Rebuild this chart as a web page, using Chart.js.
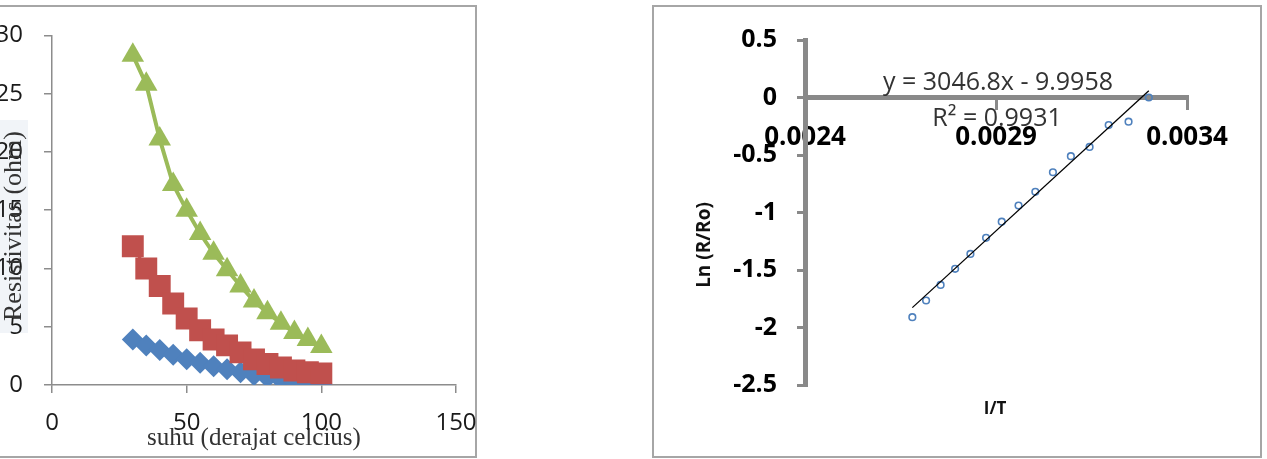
<!DOCTYPE html>
<html>
<head>
<meta charset="utf-8">
<script src="https://cdn.jsdelivr.net/npm/chart.js@4.4.0/dist/chart.umd.min.js"></script>
<style>
body { margin: 0; background: #fff; width: 1267px; height: 459px; overflow: hidden; position: relative; }
.panel { position: absolute; box-sizing: border-box; border: 2px solid #a6a6a6; pointer-events: none; }
canvas { position: absolute; top: 0; }
</style>
</head>
<body>
<div class="panel" style="left:-2px; top:5px; width:479px; height:453px;"></div>
<div class="panel" style="left:652px; top:5px; width:610px; height:453px;"></div>
<canvas id="kiri" width="500" height="459" style="left:0"></canvas>
<canvas id="kanan" width="615" height="459" style="left:652px"></canvas>
<script>
// data grafik kiri: resistivitas terhadap suhu
var suhu = [30, 35, 40, 45, 50, 55, 60, 65, 70, 75, 80, 85, 90, 95, 100];
var seriBiru = [3.9, 3.4, 3.0, 2.6, 2.2, 1.9, 1.6, 1.35, 1.1, 0.85, 0.65, 0.45, 0.3, 0.2, 0.1];
var seriMerah = [11.9, 10.0, 8.5, 7.0, 5.7, 4.7, 3.9, 3.4, 2.8, 2.2, 1.8, 1.5, 1.25, 1.1, 1.0];
var seriHijau = [28.3, 25.8, 21.1, 17.2, 15.0, 13.0, 11.3, 9.9, 8.5, 7.2, 6.2, 5.3, 4.5, 3.9, 3.3];
var xTicksKiri = [0, 50, 100, 150];
var yTicksKiri = [0, 5, 10, 15, 20, 25, 30];

// data grafik kanan: ln(R/Ro) terhadap 1/T
var invT = [0.002681, 0.002717, 0.002755, 0.002793, 0.002833, 0.002874, 0.002915, 0.002959,
            0.003003, 0.003049, 0.003096, 0.003145, 0.003195, 0.003247, 0.003300];
var lnR = [-1.91, -1.765, -1.63, -1.49, -1.36, -1.22, -1.08, -0.94, -0.82, -0.65, -0.51, -0.43, -0.24, -0.21, 0.0];
var xTicksKanan = [0.0024, 0.0029, 0.0034];
var yTicksKanan = [0.5, 0, -0.5, -1, -1.5, -2, -2.5];
var slope = 3046.8;
var intercept = -9.9958;
var r2 = 0.9931;

Chart.defaults.font.family = "'Open Sans', sans-serif";

function pasang(xs, ys) {
  var out = [];
  for (var i = 0; i < xs.length; i++) out.push({x: xs[i], y: ys[i]});
  return out;
}

function setTicks(arr) {
  return function (scale) { scale.ticks = arr.map(function (v) { return {value: v}; }); };
}

var abuSumbu = '#8c8c8c';
var biru = '#4F81BD', merah = '#C0504D', hijau = '#9BBB59';

var judulKiri = {
  id: 'judulKiri',
  beforeDraw: function (chart) {
    var c = chart.ctx;
    c.save();
    c.fillStyle = '#f1f4f8';
    c.fillRect(0, 120, 28, 213);
    c.restore();
  },
  afterDraw: function (chart) {
    var c = chart.ctx;
    c.save();
    c.translate(14, 226);
    c.rotate(-Math.PI / 2);
    c.font = "26px 'Liberation Serif', serif";
    c.fillStyle = '#333';
    c.textAlign = 'center';
    c.textBaseline = 'middle';
    c.fillText('Resistivitas (ohm)', 0, 0);
    c.restore();
  }
};

var ctx = document.getElementById('kiri').getContext('2d');
var grafikKiri = new Chart(ctx, {
  type: 'scatter',
  data: {
    datasets: [{
      data: pasang(suhu, seriBiru),
      showLine: true,
      borderColor: biru,
      backgroundColor: biru,
      borderWidth: 3,
      pointStyle: 'rectRot',
      pointRadius: 11,
      pointBorderWidth: 0,
      order: 2
    }, {
      data: pasang(suhu, seriMerah),
      showLine: true,
      borderColor: merah,
      backgroundColor: merah,
      borderWidth: 3,
      pointStyle: 'rect',
      pointRadius: 15.5,
      pointBorderWidth: 0,
      order: 1
    }, {
      data: pasang(suhu, seriHijau),
      showLine: true,
      borderColor: hijau,
      backgroundColor: hijau,
      borderWidth: 4,
      pointStyle: 'triangle',
      pointRadius: 13,
      pointBorderWidth: 0,
      order: 0
    }]
  },
  options: {
    responsive: false,
    animation: false,
    devicePixelRatio: 1,
    layout: { padding: { top: 25, right: 44, bottom: 0, left: 0 } },
    scales: {
      x: {
        type: 'linear',
        min: 0,
        max: 150,
        afterBuildTicks: setTicks(xTicksKiri),
        afterFit: function (s) { s.height = 74; },
        grid: { drawOnChartArea: false, tickLength: 8, color: abuSumbu, lineWidth: 1.5 },
        border: { color: abuSumbu, width: 1.5 },
        ticks: { padding: 16, maxRotation: 0, color: '#1a1a1a', font: { size: 24 } },
        title: {
          display: true,
          text: 'suhu (derajat celcius)',
          color: '#333',
          padding: { top: 0, bottom: 6 },
          font: { family: "'Liberation Serif', serif", size: 25 }
        }
      },
      y: {
        min: 0,
        max: 30,
        afterBuildTicks: setTicks(yTicksKiri),
        afterFit: function (s) { s.width = 52; },
        grid: { drawOnChartArea: false, tickLength: 8, color: abuSumbu, lineWidth: 1.5 },
        border: { color: abuSumbu, width: 1.5 },
        ticks: { padding: 21, color: '#1a1a1a', font: { size: 24 } }
      }
    },
    plugins: {
      legend: { display: false },
      tooltip: { enabled: false }
    }
  },
  plugins: [judulKiri]
});

var teksKanan = {
  id: 'teksKanan',
  afterDraw: function (chart) {
    var c = chart.ctx;
    c.save();
    c.textAlign = 'center';
    c.textBaseline = 'middle';
    c.fillStyle = '#333';
    c.font = "25px 'Open Sans', sans-serif";
    c.fillText('y = ' + slope + 'x - ' + Math.abs(intercept), 346, 83);
    c.fillText('R\u00B2 = ' + r2, 345, 119);
    c.fillStyle = '#111';
    c.textBaseline = 'alphabetic';
    c.font = "bold 17px 'Open Sans', sans-serif";
    c.fillText('I/T', 343, 414);
    c.textBaseline = 'middle';
    c.font = "bold 19px 'Open Sans', sans-serif";
    c.translate(53, 245);
    c.rotate(-Math.PI / 2);
    c.fillText('Ln (R/Ro)', 0, 0);
    c.restore();
  }
};

var n = invT.length;
var ctx2 = document.getElementById('kanan').getContext('2d');
var grafikKanan = new Chart(ctx2, {
  type: 'scatter',
  data: {
    datasets: [{
      data: [
        {x: invT[0], y: slope * invT[0] + intercept},
        {x: invT[n - 1], y: slope * invT[n - 1] + intercept}
      ],
      showLine: true,
      borderColor: '#000',
      borderWidth: 1.3,
      pointRadius: 0,
      order: 0
    }, {
      data: pasang(invT, lnR),
      borderColor: biru,
      pointBackgroundColor: 'rgba(0,0,0,0)',
      pointBorderColor: biru,
      pointBorderWidth: 1.6,
      pointRadius: 3.3,
      order: 1
    }]
  },
  options: {
    responsive: false,
    animation: false,
    devicePixelRatio: 1,
    layout: { padding: { top: 40, right: 80, bottom: 74, left: 0 } },
    scales: {
      x: {
        type: 'linear',
        min: 0.0024,
        max: 0.0034,
        position: { y: 0 },
        afterBuildTicks: setTicks(xTicksKanan),
        grid: { drawOnChartArea: false, tickLength: 10, color: '#898989', lineWidth: 3 },
        border: { color: '#898989', width: 5 },
        ticks: {
          padding: 14,
          maxRotation: 0,
          color: '#000',
          font: { size: 26, weight: 'bold' },
          callback: function (v) { return v.toFixed(4); }
        }
      },
      y: {
        min: -2.5,
        max: 0.5,
        afterBuildTicks: setTicks(yTicksKanan),
        afterFit: function (s) { s.width = 153; },
        grid: { drawOnChartArea: false, tickLength: 8, color: '#898989', lineWidth: 3 },
        border: { color: '#898989', width: 5 },
        ticks: {
          padding: 20,
          color: '#000',
          font: { size: 25, weight: 'bold' },
          callback: function (v) { return String(v); }
        }
      }
    },
    plugins: {
      legend: { display: false },
      tooltip: { enabled: false }
    }
  },
  plugins: [teksKanan]
});
</script>
</body>
</html>
